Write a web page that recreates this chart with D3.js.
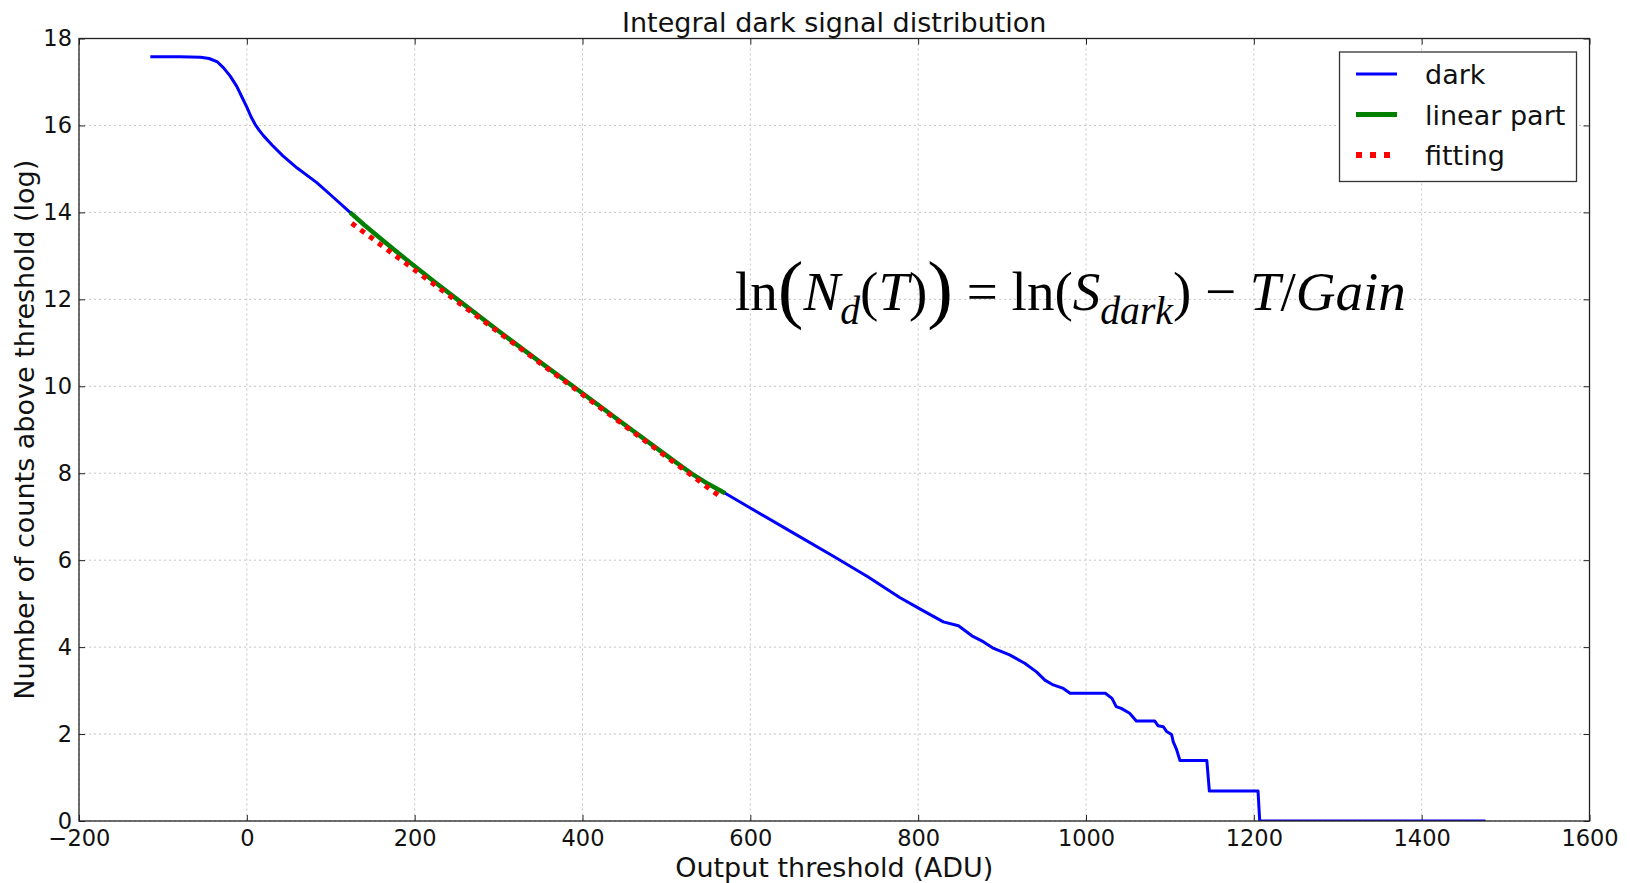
<!DOCTYPE html>
<html>
<head>
<meta charset="utf-8">
<script src="https://cdn.jsdelivr.net/npm/d3@7"></script>
<style>
  html, body { margin: 0; padding: 0; background: #fff; }
  svg { display: block; }
  text { font-family: "DejaVu Sans", sans-serif; fill: #111; }
</style>
</head>
<body>
<script>
// Integral dark signal distribution: ln of counts above threshold vs threshold (ADU)
const darkT = [-115, -80, -55, -45, -35, -28, -20, -12, -5, 0, 5, 10, 15, 20, 30, 43, 60, 83, 100,
  123, 140, 160, 180, 200, 225, 250, 300, 350, 400, 450, 500, 515, 530, 550, 570,
  600, 650, 700, 740, 778, 802, 830, 848, 864, 878, 890, 909, 927, 941, 951, 961, 973, 981,
  1023, 1031, 1036, 1042, 1052, 1060, 1082, 1086, 1092, 1096, 1102, 1104, 1108, 1112,
  1144, 1147, 1205, 1207, 1476];
const darkV = [17.58, 17.58, 17.57, 17.54, 17.46, 17.33, 17.14, 16.9, 16.62, 16.42, 16.2, 16.02, 15.88, 15.76, 15.55, 15.3, 15.02, 14.69, 14.4,
  14.0, 13.71, 13.39, 13.07, 12.76, 12.38, 12.01, 11.27, 10.55, 9.84, 9.12, 8.41, 8.2, 7.99, 7.75, 7.54,
  7.2, 6.64, 6.08, 5.62, 5.14, 4.88, 4.58, 4.49, 4.26, 4.12, 3.97, 3.82, 3.63, 3.43, 3.24, 3.13, 3.05, 2.94,
  2.94, 2.82, 2.63, 2.59, 2.48, 2.30, 2.30, 2.19, 2.17, 2.06, 1.99, 1.82, 1.64, 1.39,
  1.39, 0.69, 0.69, 0.0, 0.0];

// threshold range used as the linear part
const linearRange = [123, 570];

// fitted straight line end points
const fitT = [125, 567];
const fitV = [13.75, 7.42];

const xTicks = [-200, 0, 200, 400, 600, 800, 1000, 1200, 1400, 1600];
const yTicks = [0, 2, 4, 6, 8, 10, 12, 14, 16, 18];

const legendLabels = ["dark", "linear part", "fitting"];

const W = 1630, H = 883;
const plot = { left: 79, right: 1589.5, top: 38.5, bottom: 821 };

const svg = d3.select("body").append("svg").attr("width", W).attr("height", H);

const x = d3.scaleLinear().domain([-200, 1600]).range([plot.left, plot.right]);
const y = d3.scaleLinear().domain([0, 18]).range([plot.bottom, plot.top]);

svg.append("defs").append("clipPath").attr("id", "plot-clip")
  .append("rect")
  .attr("x", plot.left).attr("y", plot.top)
  .attr("width", plot.right - plot.left).attr("height", plot.bottom - plot.top);

// grid
const grid = svg.append("g").attr("stroke", "#c4c4c4").attr("stroke-width", 1).attr("stroke-dasharray", "2,3");
grid.selectAll("line.gx").data(xTicks).join("line")
  .attr("x1", d => x(d)).attr("x2", d => x(d))
  .attr("y1", plot.top).attr("y2", plot.bottom);
grid.selectAll("line.gy").data(yTicks).join("line")
  .attr("y1", d => y(d)).attr("y2", d => y(d))
  .attr("x1", plot.left).attr("x2", plot.right);

// curves
const darkData = darkT.map((t, i) => ({ t, v: darkV[i] }));
const linearData = darkData.filter(d => d.t >= linearRange[0] && d.t <= linearRange[1]);
const fitData = fitT.map((t, i) => ({ t, v: fitV[i] }));

const line = d3.line().x(d => x(d.t)).y(d => y(d.v));
const curves = svg.append("g").attr("clip-path", "url(#plot-clip)").attr("fill", "none");

curves.append("path").datum(darkData).attr("d", line)
  .attr("stroke", "#0000ff").attr("stroke-width", 3).attr("stroke-linejoin", "round");
curves.append("path").datum(linearData).attr("d", line)
  .attr("stroke", "#008000").attr("stroke-width", 4.5).attr("stroke-linejoin", "round");
curves.append("path").datum(fitData).attr("d", line)
  .attr("stroke", "#ff0000").attr("stroke-width", 5).attr("stroke-dasharray", "5,6");

// axes with inward ticks on all four sides
const fmt = d3.format("d");
function styleAxis(g) {
  g.select(".domain").remove();
  g.selectAll(".tick line").attr("stroke", "#222").attr("stroke-width", 1);
  g.selectAll(".tick text").attr("font-size", 22.5).attr("font-family", "DejaVu Sans").attr("fill", "#111");
}
svg.append("g").attr("transform", `translate(0,${plot.bottom})`)
  .call(d3.axisBottom(x).tickValues(xTicks).tickFormat(fmt).tickSize(-6).tickPadding(9)).call(styleAxis);
svg.append("g").attr("transform", `translate(0,${plot.top})`)
  .call(d3.axisTop(x).tickValues(xTicks).tickSize(-6).tickFormat("")).call(styleAxis);
svg.append("g").attr("transform", `translate(${plot.left},0)`)
  .call(d3.axisLeft(y).tickValues(yTicks).tickFormat(fmt).tickSize(-6).tickPadding(7)).call(styleAxis);
svg.append("g").attr("transform", `translate(${plot.right},0)`)
  .call(d3.axisRight(y).tickValues(yTicks).tickSize(-6).tickFormat("")).call(styleAxis);

svg.append("rect")
  .attr("x", plot.left).attr("y", plot.top)
  .attr("width", plot.right - plot.left).attr("height", plot.bottom - plot.top)
  .attr("fill", "none").attr("stroke", "#222").attr("stroke-width", 1.3);

// title and axis labels
const cx = (plot.left + plot.right) / 2;
svg.append("text").attr("x", cx).attr("y", 32).attr("text-anchor", "middle")
  .attr("font-size", 27).text("Integral dark signal distribution");
svg.append("text").attr("x", cx).attr("y", 877).attr("text-anchor", "middle")
  .attr("font-size", 27).text("Output threshold (ADU)");
svg.append("text")
  .attr("transform", `translate(33.5,${(plot.top + plot.bottom) / 2}) rotate(-90)`)
  .attr("text-anchor", "middle").attr("font-size", 27)
  .text("Number of counts above threshold (log)");

// legend
const legend = svg.append("g");
legend.append("rect").attr("x", 1339.5).attr("y", 52).attr("width", 237).attr("height", 129.5)
  .attr("fill", "#fff").attr("stroke", "#333").attr("stroke-width", 1.3);
const legendStyles = [
  { stroke: "#0000ff", width: 3, dash: null },
  { stroke: "#008000", width: 5, dash: null },
  { stroke: "#ff0000", width: 6, dash: "6,8" }
];
const rowY = [74, 114.5, 155];
legendLabels.forEach((lab, i) => {
  const s = legendStyles[i];
  legend.append("line")
    .attr("x1", 1356).attr("x2", i === 2 ? 1390 : 1397)
    .attr("y1", rowY[i]).attr("y2", rowY[i])
    .attr("stroke", s.stroke).attr("stroke-width", s.width)
    .attr("stroke-dasharray", s.dash);
  legend.append("text").attr("x", 1425).attr("y", rowY[i] + 10)
    .attr("font-size", 27).text(lab);
});

// formula annotation
const formulaParts = [
  { t: "ln" },
  { t: "(", big: true },
  { t: "N", it: true },
  { t: "d", it: true, sub: true },
  { t: "(" },
  { t: "T", it: true },
  { t: ")" },
  { t: ")", big: true },
  { t: " = ln(" },
  { t: "S", it: true },
  { t: "dark", it: true, sub: true },
  { t: ") − " },
  { t: "T", it: true },
  { t: "/" },
  { t: "Gain", it: true }
];
const formula = svg.append("text")
  .attr("x", 735).attr("y", 310)
  .style("font-family", "'Liberation Serif', serif")
  .attr("fill", "#000");
function buildFormula(fs) {
  formula.selectAll("tspan").remove();
  let prev = 0;
  formulaParts.forEach(p => {
    const off = p.sub ? 0.25 * fs : (p.big ? 0.07 * fs : 0);
    formula.append("tspan")
      .attr("dy", off - prev)
      .attr("font-size", p.sub ? 0.72 * fs : (p.big ? 1.4 * fs : fs))
      .attr("font-style", p.it ? "italic" : "normal")
      .attr("fill", "#000")
      .text(p.t);
    prev = off;
  });
}
let fs = 50;
buildFormula(fs);
const w0 = formula.node().getBBox().width;
fs = fs * 671 / w0;
buildFormula(fs);
</script>
</body>
</html>
